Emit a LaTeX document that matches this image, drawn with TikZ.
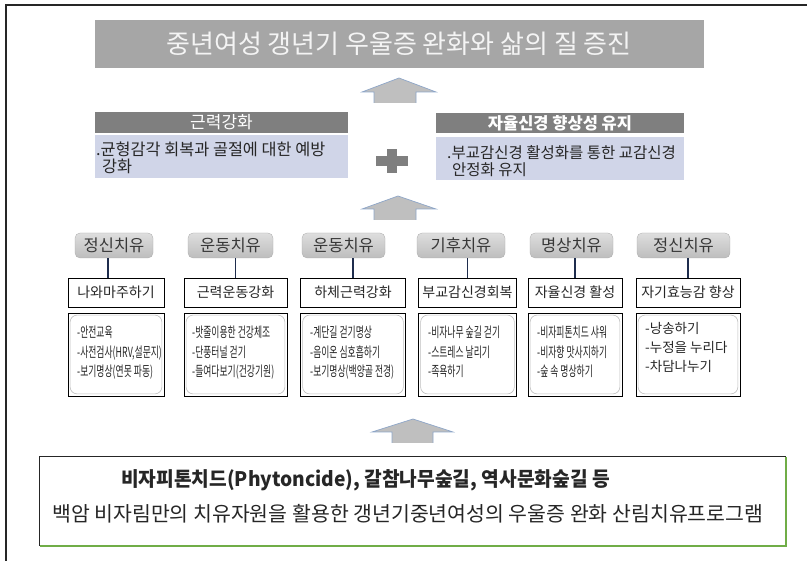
\documentclass[tikz,border=0pt]{standalone}
\usepackage{fontspec}
\setmainfont{Noto Sans CJK KR}
\newfontfamily\krc[FakeStretch=0.63]{Noto Sans CJK KR}
\newfontfamily\krs[FakeStretch=0.96]{Noto Sans CJK KR}
\definecolor{titlegray}{HTML}{A6A6A6}
\definecolor{titletext}{HTML}{F4F4F4}
\definecolor{hdrgray}{HTML}{7F7F7F}
\definecolor{bodyblue}{HTML}{D0D5E8}
\definecolor{arrowfill}{HTML}{BFBFBF}
\definecolor{arrowline}{HTML}{8EA6C8}
\definecolor{darktext}{HTML}{262626}
\definecolor{tabtext}{HTML}{383838}
\definecolor{tabtop}{HTML}{DEDEDE}
\definecolor{tabbot}{HTML}{BDBDBD}
\definecolor{connline}{HTML}{1F2D4D}
\definecolor{shadowgreen}{HTML}{70AD47}
\begin{document}
\begin{tikzpicture}[x=1pt,y=-1pt,
  titlebox/.style={fill=titlegray, draw=titlegray, inner sep=0, text=titletext, font=\fontsize{26}{30}\selectfont},
  midhead/.style={fill=hdrgray, inner sep=0, text=white, font=\fontsize{17}{20}\selectfont, minimum height=20.5},
  midbody/.style={fill=bodyblue, inner sep=0, minimum height=43},
  bodytext/.style={anchor=base west, inner sep=0, text=darktext, font=\fontsize{16.3}{19}\selectfont},
  tab/.style={rounded corners=5pt, top color=tabtop, bottom color=tabbot, draw=tabbot!90!black, line width=0.3pt, inner sep=0, minimum height=25, text=tabtext, font=\fontsize{16.5}{19}\selectfont},
  goalbox/.style={draw=black, line width=0.8pt, fill=white, inner sep=0, minimum height=29, text=darktext, font=\fontsize{14}{17}\selectfont},
  itembox/.style={draw=black, line width=0.8pt, fill=white, inner sep=0, minimum height=83},
  inner/.style={draw=black!25, line width=0.6pt, rounded corners=7pt},
  itemtext/.style={anchor=base west, inner sep=0, text=darktext, font=\krc\fontsize{14}{17}\selectfont},
  itemtextw/.style={anchor=base west, inner sep=0, text=darktext, font=\fontsize{13.5}{16}\selectfont},
  conn/.style={draw=connline, line width=1.6pt},
  blockfill/.style={fill=arrowfill},
  blockline/.style={draw=arrowline, line width=0.7pt}
]
\useasboundingbox (0,0) rectangle (807,561);
% outer frame
\draw[line width=1.5pt, black!85] (807,5) -- (6,5) -- (6,561);

% title
\node[titlebox, minimum width=608, minimum height=47] (title) at (399,43.5) {중년여성 갱년기 우울증 완화와 삶의 질 증진};

% arrow 1
\fill[blockfill] (374,103) -- (374,92) -- (362,92) -- (399,78) -- (436,92) -- (416,92) -- (416,103) -- cycle;
\draw[blockline] (374,103) -- (374,92) -- (362,92) -- (399,78) -- (436,92) -- (416,92) -- (416,103);

% middle layer
\node[midhead, minimum width=253] (lh) at (221.5,122.5) {근력강화};
\node[midbody, minimum width=253] (lb) at (221.5,157) {};
\node[bodytext] (lb1) at (96,155.5) {.균형감각 회복과 골절에 대한 예방};
\node[bodytext] (lb2) at (102,172.5) {강화};

\node[midhead, minimum width=248, font=\bfseries\fontsize{16.5}{19}\selectfont] (rh) at (560,123) {자율신경 향상성 유지};
\node[midbody, minimum width=248] (rb) at (560,158.5) {};
\node[bodytext, font=\fontsize{15.5}{18}\selectfont] (rb1) at (447,158.5) {.부교감신경 활성화를 통한 교감신경};
\node[bodytext, font=\fontsize{15.5}{18}\selectfont] (rb2) at (452,175.5) {안정화 유지};

% plus
\fill[hdrgray] (376,156) rectangle (408,166);
\fill[hdrgray] (387,149) rectangle (397,173);

% arrow 2
\fill[blockfill] (374,220) -- (374,209) -- (362,209) -- (398,196) -- (436,209) -- (416,209) -- (416,220) -- cycle;
\draw[blockline] (374,220) -- (374,209) -- (362,209) -- (398,196) -- (436,209) -- (416,209) -- (416,220);

% tabs
\node[tab, minimum width=78] (h1) at (114,245.5) {정신치유};
\node[tab, minimum width=85] (h2) at (230.5,245.5) {운동치유};
\node[tab, minimum width=83] (h3) at (343.5,245.5) {운동치유};
\node[tab, minimum width=88] (h4) at (461,245.5) {기후치유};
\node[tab, minimum width=83] (h5) at (571.5,245.5) {명상치유};
\node[tab, minimum width=93] (h6) at (683.5,245.5) {정신치유};

% goal boxes
\node[goalbox, minimum width=96] (m1) at (116,292.5) {나와마주하기};
\node[goalbox, minimum width=103] (m2) at (235.5,292.5) {근력운동강화};
\node[goalbox, minimum width=105] (m3) at (353,292.5) {하체근력강화};
\node[goalbox, minimum width=98] (m4) at (467.5,292.5) {부교감신경회복};
\node[goalbox, minimum width=94] (m5) at (575,292.5) {자율신경 활성};
\node[goalbox, minimum width=104] (m6) at (688,292.5) {자기효능감 향상};

% connectors
\draw[conn] (h1.south -| 108,0) -- (m1.north -| 108,0);
\foreach \i in {2,...,6}{
  \draw[conn] (m\i.north |- h\i.south) -- (m\i.north);
}

% item boxes
\foreach \i/\cx/\w in {1/116/96, 2/235.5/103, 3/353/105, 4/467.5/98, 5/575/94, 6/688/104}{
  \node[itembox, minimum width=\w] (b\i) at (\cx,354.5) {};
  \draw[inner] ([xshift=2.5pt,yshift=-2.5pt]b\i.north west) rectangle ([xshift=-2.5pt,yshift=2.5pt]b\i.south east);
}

% item texts
\node[itemtext] (t11) at (77,338) {-안전교육};
\node[itemtext] (t12) at (77,357.5) {-사전검사(HRV,설문지)};
\node[itemtext] (t13) at (77,377) {-보기명상(연못 파동)};

\node[itemtext] (t21) at (192,338) {-밧줄이용한 건강체조};
\node[itemtext] (t22) at (192,357.5) {-단풍터널 걷기};
\node[itemtext] (t23) at (192,377) {-들여다보기(건강기원)};

\node[itemtext] (t31) at (310,338) {-계단길 걷기명상};
\node[itemtext] (t32) at (310,357.5) {-음이온 심호흡하기};
\node[itemtext] (t33) at (310,377) {-보기명상(백양골 전경)};

\node[itemtext] (t41) at (428,338) {-비자나무 숲길 걷기};
\node[itemtext] (t42) at (428,357.5) {-스트레스 날리기};
\node[itemtext] (t43) at (428,377) {-족욕하기};

\node[itemtext] (t51) at (537,338) {-비자피톤치드 샤워};
\node[itemtext] (t52) at (537,357.5) {-비자향 맛사지하기};
\node[itemtext] (t53) at (537,377) {-숲 속 명상하기};

\node[itemtextw] (t61) at (645,334) {-낭송하기};
\node[itemtextw] (t62) at (645,353) {-누정을 누리다};
\node[itemtextw] (t63) at (645,372) {-차담나누기};

% arrow 3
\fill[blockfill] (392,443) -- (392,432) -- (372,432) -- (413,419) -- (453,432) -- (433,432) -- (433,443) -- cycle;
\draw[blockline] (392,443) -- (392,432) -- (372,432) -- (413,419) -- (453,432) -- (433,432) -- (433,443);

% source box
\node[draw=black!85, line width=0.8pt, fill=white, inner sep=0, minimum width=746, minimum height=89] (src) at (412,500.5) {};
\draw[shadowgreen, line width=1.3pt] ([xshift=0.6pt,yshift=-1.5pt]src.north east) -- ([xshift=0.6pt,yshift=-0.6pt]src.south east) -- ([xshift=1.5pt,yshift=-0.6pt]src.south west);
\node[anchor=base west, inner sep=0, text=darktext, font=\krs\bfseries\fontsize{20}{24}\selectfont] (s1) at (121,487) {비자피톤치드(Phytoncide), 갈참나무숲길, 역사문화숲길 등};
\node[anchor=base west, inner sep=0, text=darktext, font=\fontsize{20.5}{24}\selectfont] (s2) at (52,522) {백암 비자림만의 치유자원을 활용한 갱년기중년여성의 우울증 완화 산림치유프로그램};
\end{tikzpicture}
\end{document}
